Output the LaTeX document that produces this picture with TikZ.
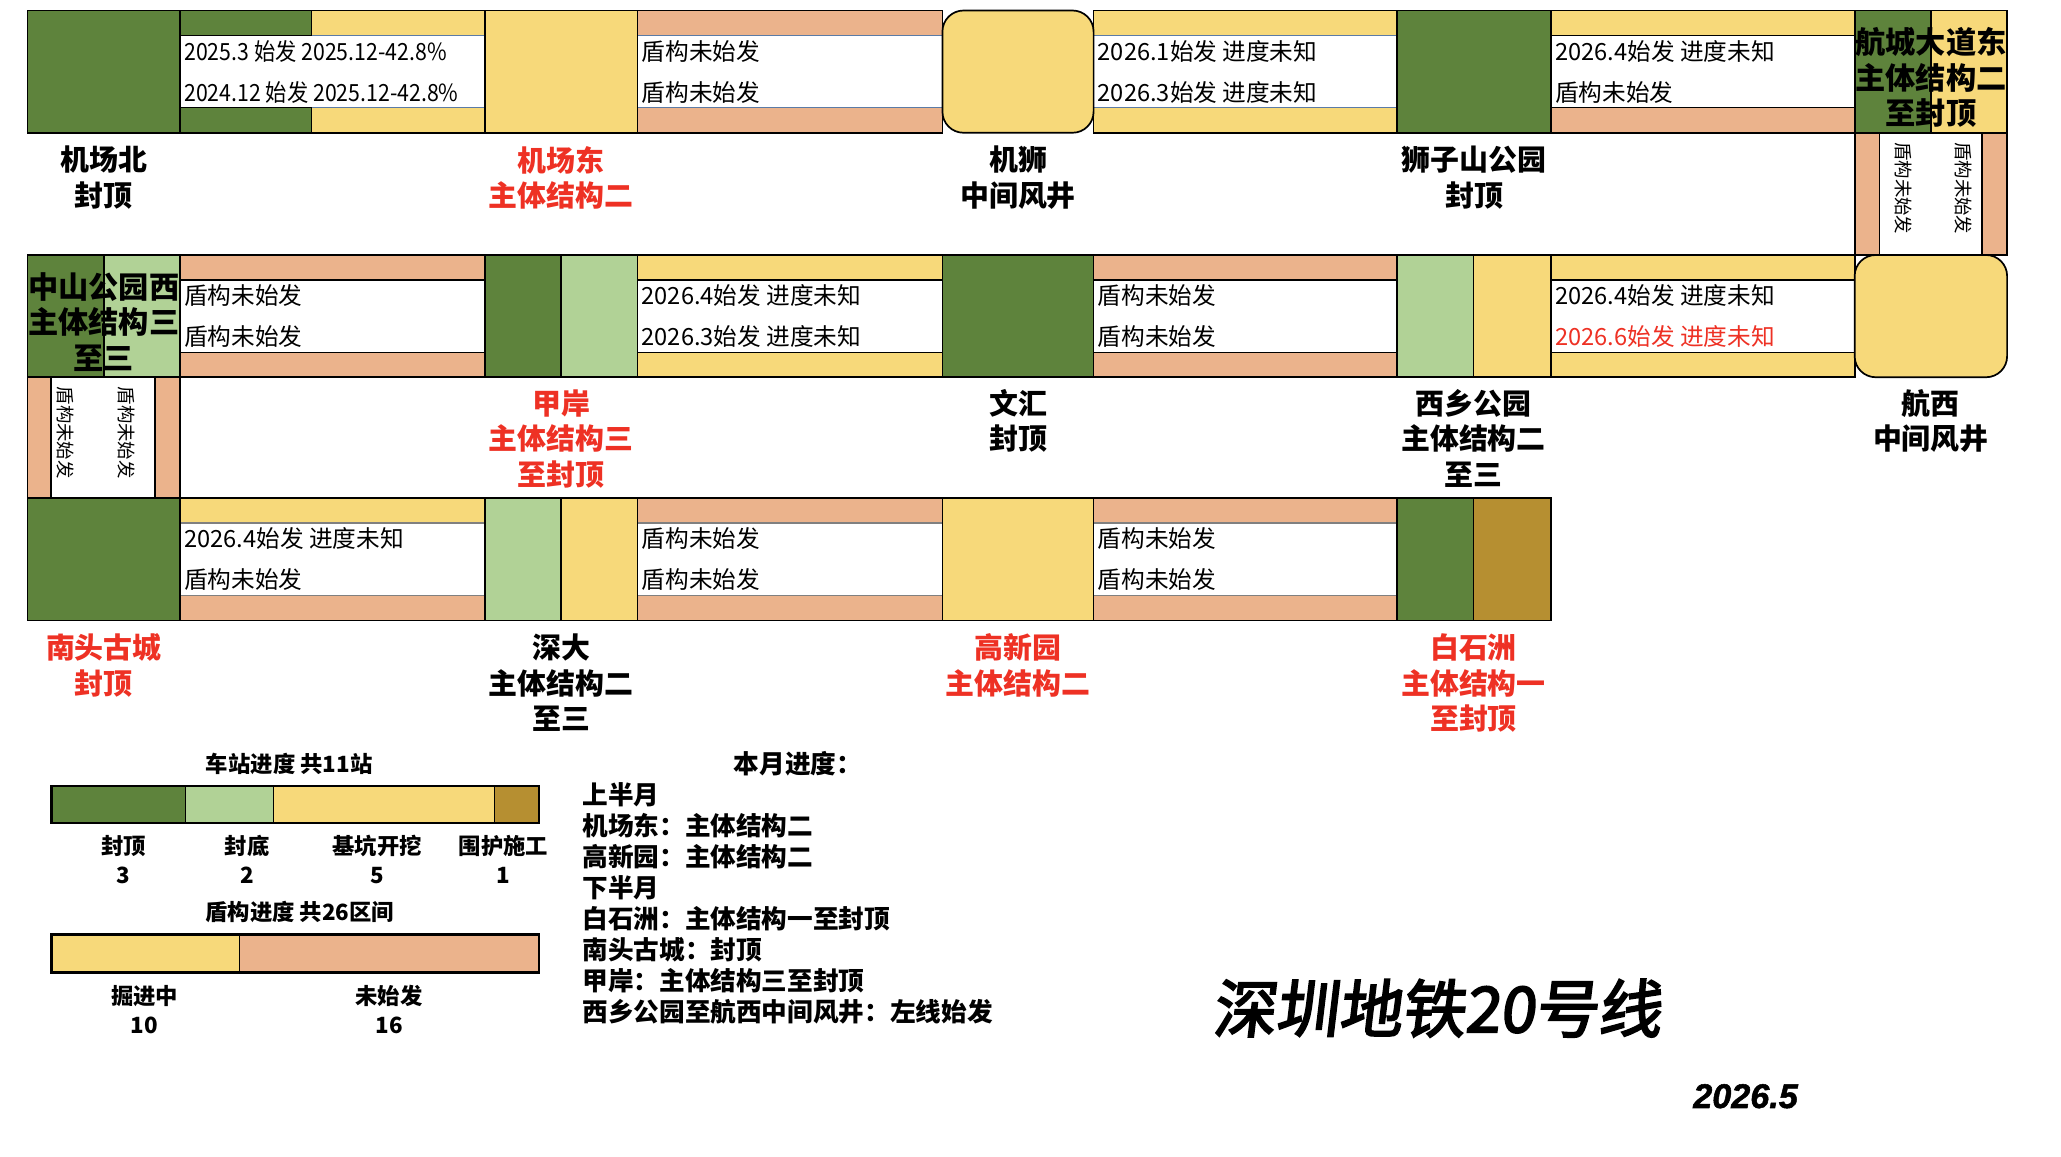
\documentclass[tikz,border=0pt]{standalone}
\usepackage{fontspec}
\usepackage{tikz}
\usetikzlibrary{positioning}

\newfontfamily\cjk{Noto Sans CJK SC}
\newfontfamily\cjkn[FakeStretch=0.9]{Noto Sans CJK SC}
\newfontfamily\brush[FakeBold=3,FakeSlant=0.12]{Noto Sans CJK SC}
\newfontfamily\datefont[FakeBold=1.5]{Liberation Sans}

\definecolor{done}{HTML}{5E833C}
\definecolor{floor}{HTML}{B1D296}
\definecolor{dig}{HTML}{F7D97A}
\definecolor{wait}{HTML}{EBB38C}
\definecolor{wall}{HTML}{B68F31}
\definecolor{warn}{HTML}{EE3124}
\definecolor{rim}{HTML}{5B7BA6}

\begin{document}
\begin{tikzpicture}[x=1pt, y=-1pt,
    stn/.style={draw, line width=1.3pt, anchor=north west, minimum height=93pt, inner sep=0pt, outer sep=0pt},
    lbl/.style={font={\cjk\bfseries\fontsize{22}{27}\selectfont}, align=center, inner sep=2pt},
    redlbl/.style={lbl, text=warn},
    seg/.style={font={\cjk\fontsize{18}{18}\selectfont}, anchor=west, inner sep=2pt},
    vtxt/.style={font={\cjk\fontsize{14}{14}\selectfont}, rotate=-90, anchor=west, inner sep=0pt},
    key/.style={font={\cjk\bfseries\fontsize{17}{22}\selectfont}, align=center, inner sep=2pt},
    bar/.style={draw, line width=1pt}
  ]
  \useasboundingbox (0,0) rectangle (1568,880);
  \fill[white] (0,0) rectangle (1568,880);

  % tunnels: x / width / top / upper band / lower band / line colour / texts
  \foreach \xa/\w/\yt/\ct/\cb/\lc/\ta/\tb [count=\i] in {
      137/232/8/dig/dig/rim/{\cjkn 2025.3 始发 2025.12-42.8\%}/{\cjkn 2024.12 始发 2025.12-42.8\%},
      485/232/8/wait/wait/rim/盾构未始发/盾构未始发,
      832/231/8/dig/dig/rim/{2026.1始发 进度未知}/{2026.3始发 进度未知},
      1180/231/8/dig/wait/black/{2026.4始发 进度未知}/盾构未始发,
      137/232/194/wait/wait/black/盾构未始发/盾构未始发,
      485/232/194/dig/dig/black/{2026.4始发 进度未知}/{2026.3始发 进度未知},
      832/231/194/wait/wait/black/盾构未始发/盾构未始发,
      1180/231/194/dig/dig/black/{2026.4始发 进度未知}/{\color{warn}2026.6始发 进度未知},
      137/232/379/dig/wait/gray/{2026.4始发 进度未知}/盾构未始发,
      485/232/379/wait/wait/gray/盾构未始发/盾构未始发,
      832/231/379/wait/wait/gray/盾构未始发/盾构未始发} {
    \fill[\ct] (\xa,\yt) rectangle ++(\w,19);
    \fill[\cb] (\xa,\yt+74) rectangle ++(\w,19);
    \draw[\lc, line width=1pt] (\xa,\yt+19) -- ++(\w,0) (\xa,\yt+74) -- ++(\w,0);
    \draw[line width=1.3pt] (\xa,\yt) rectangle ++(\w,93);
    \node[seg] (up\i) at (\xa+1,\yt+31) {\ta};
    \node[seg] (dn\i) at (\xa+1,\yt+62) {\tb};
  }
  % first tunnel: finished part
  \draw[fill=done, line width=1pt] (137,8) rectangle (237,27);
  \draw[fill=done, line width=1pt] (137,82) rectangle (237,101);

  % links between rows
  \fill[wait] (1411,101) rectangle (1430,194) (1508,101) rectangle (1527,194);
  \draw[line width=1.3pt] (1411,101) rectangle (1527,194) (1430,101) -- (1430,194) (1508,101) -- (1508,194);
  \node[vtxt] (lk1) at (1448,108) {盾构未始发};
  \node[vtxt] (lk2) at (1494,108) {盾构未始发};
  \fill[wait] (21,287) rectangle (39,379) (118,287) rectangle (137,379);
  \draw[line width=1.3pt] (21,287) rectangle (137,379) (39,287) -- (39,379) (118,287) -- (118,379);
  \node[vtxt] (lk3) at (50,294) {盾构未始发};
  \node[vtxt] (lk4) at (96,294) {盾构未始发};

  % row 1
  \node[stn, fill=done, minimum width=116pt] (jcb) at (21,8) {};
  \node[stn, fill=dig, minimum width=116pt] (jcd) at (369,8) {};
  \node[stn, fill=dig, minimum width=115pt, rounded corners=16pt] (jsf) at (717,8) {};
  \node[stn, fill=done, minimum width=117pt] (szs) at (1063,8) {};
  \node[stn, fill=done, minimum width=58pt] (hcd1) at (1411,8) {};
  \node[stn, fill=dig, minimum width=58pt] (hcd2) at (1469,8) {};
  \node[lbl, font={\cjk\bfseries\fontsize{23}{27}\selectfont}] (hcdt) at (1469,59) {航城大道东\\主体结构二\\至封顶};
  \node[lbl, below=8pt of jcb] {机场北\\封顶};
  \node[redlbl, below=8pt of jcd] {机场东\\主体结构二};
  \node[lbl, below=8pt of jsf] {机狮\\中间风井};
  \node[lbl, below=8pt of szs] {狮子山公园\\封顶};

  % row 2
  \node[stn, fill=done, minimum width=58pt] (zsx1) at (21,194) {};
  \node[stn, fill=floor, minimum width=58pt] (zsx2) at (79,194) {};
  \node[lbl, font={\cjk\bfseries\fontsize{23}{27}\selectfont}] (zsxt) at (79,245) {中山公园西\\主体结构三\\至三};
  \node[stn, fill=done, minimum width=58pt] (ja1) at (369,194) {};
  \node[stn, fill=floor, minimum width=58pt] (ja2) at (427,194) {};
  \node[stn, fill=done, minimum width=115pt] (wh) at (717,194) {};
  \node[stn, fill=floor, minimum width=58pt] (xx1) at (1063,194) {};
  \node[stn, fill=dig, minimum width=59pt] (xx2) at (1121,194) {};
  \node[stn, fill=dig, minimum width=116pt, rounded corners=16pt] (hx) at (1411,194) {};
  \node[redlbl, below=7pt of ja1.south east] {甲岸\\主体结构三\\至封顶};
  \node[lbl, below=7pt of wh] {文汇\\封顶};
  \node[lbl, below=7pt of xx1.south east] {西乡公园\\主体结构二\\至三};
  \node[lbl, below=7pt of hx] {航西\\中间风井};

  % row 3
  \node[stn, fill=done, minimum width=116pt] (ntg) at (21,379) {};
  \node[stn, fill=floor, minimum width=58pt] (sd1) at (369,379) {};
  \node[stn, fill=dig, minimum width=58pt] (sd2) at (427,379) {};
  \node[stn, fill=dig, minimum width=115pt] (gxy) at (717,379) {};
  \node[stn, fill=done, minimum width=58pt] (bsz1) at (1063,379) {};
  \node[stn, fill=wall, minimum width=59pt] (bsz2) at (1121,379) {};
  \node[redlbl, below=8pt of ntg] {南头古城\\封顶};
  \node[lbl, below=8pt of sd1.south east] {深大\\主体结构二\\至三};
  \node[redlbl, below=8pt of gxy] {高新园\\主体结构二};
  \node[redlbl, below=8pt of bsz1.south east] {白石洲\\主体结构一\\至封顶};

  % legend
  \node[key] (sk) at (220,581) {车站进度 共11站};
  \draw[bar, fill=done] (39,598) rectangle (141,626);
  \draw[bar, fill=floor] (141,598) rectangle (208,626);
  \draw[bar, fill=dig] (208,598) rectangle (376,626);
  \draw[bar, fill=wall] (376,598) rectangle (410,626);
  \draw[line width=2pt] (39,598) rectangle (410,626);
  \node[key] (k1) at (94,654) {封顶\\3};
  \node[key] (k2) at (188,654) {封底\\2};
  \node[key] (k3) at (287,654) {基坑开挖\\5};
  \node[key] (k4) at (383,654) {围护施工\\1};
  \node[key] (dk) at (228,694) {盾构进度 共26区间};
  \draw[bar, fill=dig] (39,711) rectangle (182,740);
  \draw[bar, fill=wait] (182,711) rectangle (410,740);
  \draw[line width=2pt] (39,711) rectangle (410,740);
  \node[key] (k5) at (110,768) {掘进中\\10};
  \node[key] (k6) at (296,768) {未始发\\16};

  % this month
  \node[key, font={\cjk\bfseries\fontsize{19.5}{23.6}\selectfont}] (mt) at (607,581) {本月进度：};
  \node[key, font={\cjk\bfseries\fontsize{19.5}{23.6}\selectfont}, align=left, anchor=north west] (mb) at (441,593)
    {上半月\\机场东：主体结构二\\高新园：主体结构二\\下半月\\白石洲：主体结构一至封顶\\南头古城：封顶\\甲岸：主体结构三至封顶\\西乡公园至航西中间风井：左线始发};

  \node[font={\brush\fontsize{48}{48}\selectfont}] (ttl) at (1093,767) {深圳地铁20号线};
  \node[font={\datefont\bfseries\itshape\fontsize{26}{26}\selectfont}] (dt) at (1328,834) {2026.5};
\end{tikzpicture}
\end{document}
